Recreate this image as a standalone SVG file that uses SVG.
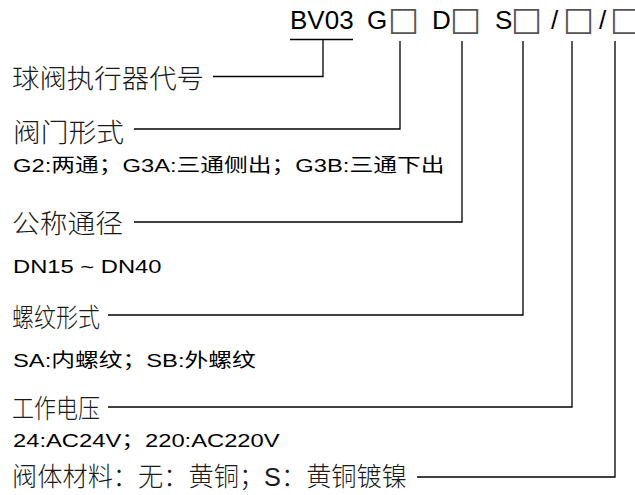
<svg xmlns="http://www.w3.org/2000/svg" width="635" height="495" viewBox="0 0 635 495">
<style>
.code{font-family:"Liberation Sans",Arial,sans-serif;font-size:26px;fill:#000}
.box{font-family:"DejaVu Sans",sans-serif;font-size:33px;fill:#555}
.lbl{font-family:"Noto Sans CJK SC","Liberation Sans",sans-serif;font-size:26px;font-weight:300;fill:#1a1a1a}
.lat{font-family:"Liberation Sans",Arial,"Noto Sans CJK SC",sans-serif}
.sub{font-family:"Liberation Sans",Arial,"Noto Sans CJK SC",sans-serif;font-size:19px;fill:#000}
.wire{fill:none;stroke:#000;stroke-width:1.3}
</style>
<rect width="635" height="495" fill="#fff"/>
<g id="code">
<text class="code" x="290" y="29">BV03</text>
<text class="code" x="367" y="29">G</text><text class="box" x="388" y="30">□</text>
<text class="code" x="432" y="29">D</text><text class="box" x="450" y="30">□</text>
<text class="code" x="495" y="29">S</text><text class="box" x="511" y="30">□</text>
<text class="code" x="551" y="29">/</text><text class="box" x="563" y="30">□</text>
<text class="code" x="599" y="29">/</text><text class="box" x="610" y="30">□</text>
</g>
<g id="node-actuator"><text class="lbl" x="12" y="88" textLength="192" lengthAdjust="spacingAndGlyphs">球阀执行器代号</text></g>
<g id="node-valvetype">
<text class="lbl" x="13" y="142" textLength="111" lengthAdjust="spacingAndGlyphs">阀门形式</text>
<text class="sub" transform="translate(13,172) scale(1.25,1)">G2:两通；G3A:三通侧出；G3B:三通下出</text>
</g>
<g id="node-dn">
<text class="lbl" x="12" y="233" textLength="111" lengthAdjust="spacingAndGlyphs">公称通径</text>
<text class="sub" transform="translate(13,273) scale(1.25,1)">DN15 ~ DN40</text>
</g>
<g id="node-thread">
<text class="lbl" x="12" y="327" textLength="88" lengthAdjust="spacingAndGlyphs">螺纹形式</text>
<text class="sub" transform="translate(13,367) scale(1.25,1)">SA:内螺纹；SB:外螺纹</text>
</g>
<g id="node-voltage">
<text class="lbl" x="12" y="418" textLength="88" lengthAdjust="spacingAndGlyphs">工作电压</text>
<text class="sub" transform="translate(13,447) scale(1.25,1)">24:AC24V；220:AC220V</text>
</g>
<g id="node-material"><text class="lbl" x="12" y="486" textLength="395" lengthAdjust="spacingAndGlyphs">阀体材料：无：黄铜；<tspan class="lat">S</tspan>：黄铜镀镍</text></g>
<g id="connectors">
<path class="wire" d="M290,39.5H353M323,39.5V76.5H213"/>
<path class="wire" d="M400,41V129H134"/>
<path class="wire" d="M462,41V222H134"/>
<path class="wire" d="M523,41V315H108"/>
<path class="wire" d="M572,41V407H108"/>
<path class="wire" d="M615,41V477H417"/>
</g>
</svg>
